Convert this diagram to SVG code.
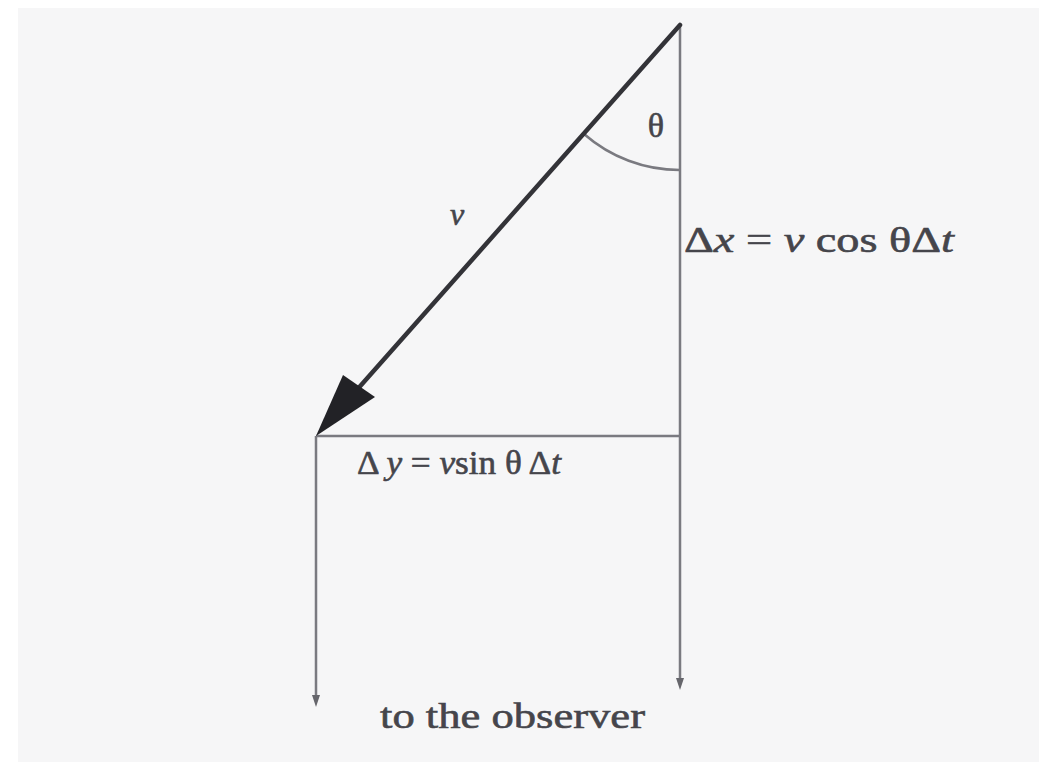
<svg xmlns="http://www.w3.org/2000/svg" width="1039" height="762" viewBox="0 0 1039 762">
<style>
.ln{stroke:#7a7a80;stroke-width:2.5;fill:none}
.t{font-family:"Liberation Serif",serif;fill:#45454b;stroke:#45454b;stroke-width:0.6}
.i{font-style:italic}
</style>
<rect width="1039" height="762" fill="#ffffff"/>
<rect x="18" y="8" width="1021" height="754" fill="#f6f6f7"/>
<g id="connectors">
<line class="ln" x1="680" y1="25" x2="680" y2="680"/>
<path d="M676,678 L684,678 L680,690 Z" fill="#66666c"/>
<line class="ln" x1="316" y1="436" x2="680" y2="436"/>
<line class="ln" x1="316" y1="436" x2="316" y2="697"/>
<path d="M312,695 L320,695 L316,707 Z" fill="#66666c"/>
<path class="ln" d="M584,134 A145,145 0 0 0 680,170" stroke-width="2"/>
<line x1="680" y1="25" x2="355" y2="392" stroke="#333338" stroke-width="4.5" stroke-linecap="round"/>
<path d="M316,436 L343,375 L375,397 Z" fill="#222226"/>
</g>
<g id="theta"><text class="t" x="656" y="137" font-size="34" text-anchor="middle">θ</text></g>
<g id="v-label"><text class="t i" x="457" y="225" font-size="32" text-anchor="middle">v</text></g>
<g id="dx-label"><text class="t" x="684" y="252" font-size="36" textLength="270" lengthAdjust="spacingAndGlyphs">Δ<tspan class="i">x</tspan> = <tspan class="i">v</tspan> cos θΔ<tspan class="i">t</tspan></text></g>
<g id="dy-label"><text class="t" x="357" y="474" font-size="34" textLength="204" lengthAdjust="spacingAndGlyphs">Δ <tspan class="i">y</tspan> = <tspan class="i">v</tspan>sin θ Δ<tspan class="i">t</tspan></text></g>
<g id="observer-label"><text class="t" x="380" y="728" font-size="36" textLength="265" lengthAdjust="spacingAndGlyphs">to the observer</text></g>
</svg>
